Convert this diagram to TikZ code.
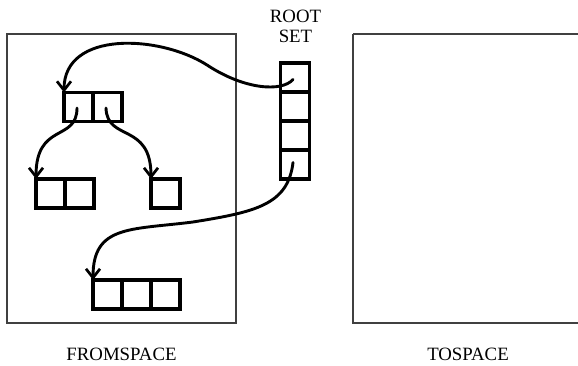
\documentclass[tikz,border=0pt]{standalone}
\usepackage{fontspec}
\setmainfont{Liberation Serif}
\usetikzlibrary{arrows.meta}
\tikzset{
  cell/.style={draw, line width=3.2pt, minimum width=29pt, minimum height=29pt, inner sep=0pt, outer sep=0pt},
  space/.style={draw=black!75, line width=1.2pt},
  ptr/.style={line width=2.9pt, line cap=round, -{Straight Barb[length=9pt,width=14pt,line width=2.7pt]}},
  lbl/.style={font=\fontsize{18.8}{20}\selectfont, inner sep=0pt, align=center}
}
\begin{document}
\begin{tikzpicture}[x=1pt,y=-1pt]
\useasboundingbox (0,0) rectangle (578,366);
% spaces
\draw[space] (7,34) rectangle (236,323);
\draw[space] (353,34) -- (353,323) -- (582,323);
\draw[space] (353,34) -- (582,34);
\node[lbl, anchor=base] (fromlbl) at (121.5,360) {FROMSPACE};
\node[lbl, anchor=base] (tolbl) at (468,360) {TOSPACE};
\node[lbl, anchor=south] (rootlbl) at (295.5,43) {ROOT\\SET};
% root set
\node[cell] (r1) at (295,77.5) {};
\node[cell] (r2) at (295,106.5) {};
\node[cell] (r3) at (295,135.5) {};
\node[cell] (r4) at (295,164.5) {};
% top node
\node[cell] (t1) at (78.5,107) {};
\node[cell] (t2) at (107.5,107) {};
% bottom left
\node[cell] (a1) at (50.5,193.5) {};
\node[cell] (a2) at (79.5,193.5) {};
% single
\node[cell] (s1) at (165.5,193.5) {};
% three cells
\node[cell] (b1) at (107.5,294.5) {};
\node[cell] (b2) at (136.5,294.5) {};
\node[cell] (b3) at (165.5,294.5) {};
% pointers
\draw[ptr] ([shift={(-2,2)}]r1.center) .. controls (282,92) and (245,90) .. (207,65)
  .. controls (160,35) and (64,30) .. (t1.north west);
\draw[ptr] ([shift={(-1.5,1)}]t1.center) .. controls (77,142) and (36,122) .. (a1.north west);
\draw[ptr] ([shift={(-1.5,1)}]t2.center) .. controls (107,142) and (151,122) .. (s1.north west);
\draw[ptr] ([shift={(-2,-2)}]r4.center) .. controls (288,205) and (255,212) .. (193,222)
  .. controls (130,230) and (93,225) .. (b1.north west);
\end{tikzpicture}
\end{document}
